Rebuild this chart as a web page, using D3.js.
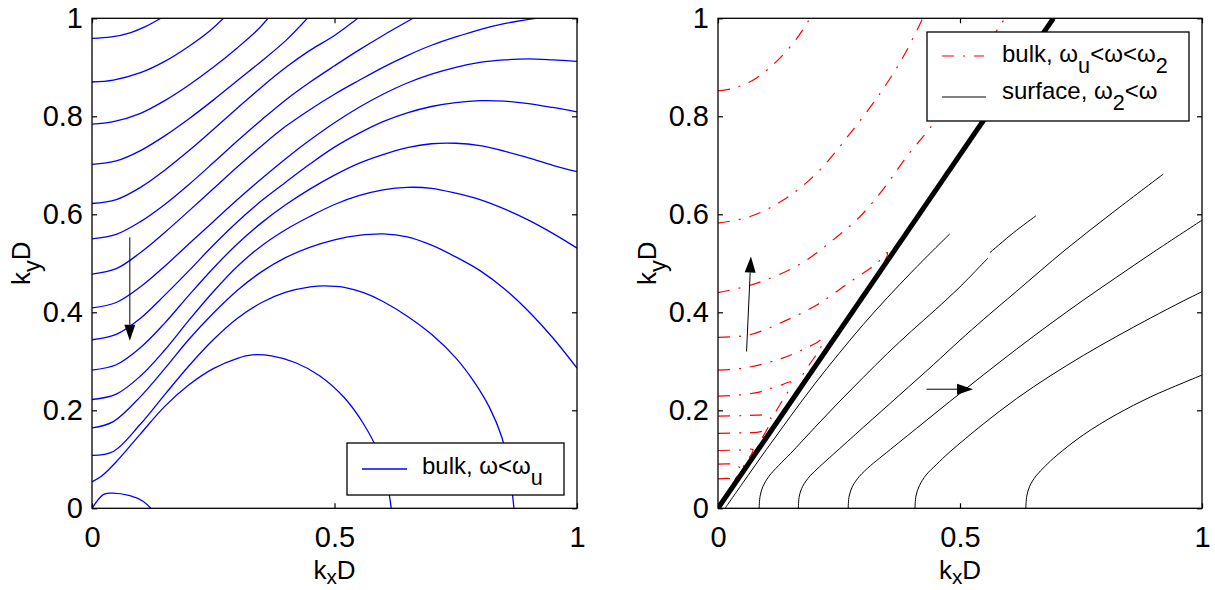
<!DOCTYPE html>
<html>
<head>
<meta charset="utf-8">
<script src="https://cdn.jsdelivr.net/npm/d3@7"></script>
<style>
  body { margin: 0; background: #fff; }
  svg { display: block; }
  text { font-family: "Liberation Sans", Arial, sans-serif; fill: #000; }
</style>
</head>
<body>
<svg id="fig" width="1215" height="590"></svg>
<script>
// tick values, shared by both panels
var xTicks = [0, 0.5, 1];
var yTicks = [0, 0.2, 0.4, 0.6, 0.8, 1];
var xTickLabels = ['0', '0.5', '1'];
var yTickLabels = ['0', '0.2', '0.4', '0.6', '0.8', '1'];

// left panel: bulk contours, omega < omega_u  (kxD, kyD)
var bulkLow = [
  [[0,.959],[.04,.962],[.08,.971],[.11,.983],[.142,1]],
  [[0,.870],[.044,.874],[.1,.889],[.15,.912],[.2,.943],[.24,.972],[.271,1]],
  [[0,.784],[.044,.789],[.1,.806],[.15,.832],[.2,.864],[.25,.900],[.3,.940],[.34,.975],[.363,1]],
  [[0,.702],[.05,.709],[.1,.730],[.15,.760],[.2,.795],[.25,.833],[.3,.873],[.35,.913],[.4,.955],[.444,1]],
  [[0,.622],[.05,.630],[.1,.655],[.15,.690],[.2,.730],[.25,.773],[.3,.817],[.35,.860],[.4,.900],[.45,.935],[.5,.965],[.548,1]],
  [[0,.550],[.05,.559],[.1,.585],[.15,.620],[.2,.661],[.25,.705],[.3,.750],[.35,.793],[.4,.834],[.45,.870],[.5,.903],[.55,.935],[.6,.965],[.662,1]],
  [[0,.478],[.05,.489],[.1,.522],[.15,.563],[.2,.607],[.25,.652],[.3,.697],[.35,.740],[.4,.780],[.45,.814],[.5,.845],[.55,.873],[.6,.900],[.65,.924],[.7,.945],[.75,.962],[.8,.977],[.85,.989],[.915,1]],
  [[0,.409],[.05,.420],[.1,.452],[.15,.494],[.2,.540],[.25,.585],[.3,.630],[.35,.673],[.4,.714],[.45,.752],[.5,.787],[.55,.818],[.6,.845],[.65,.868],[.7,.886],[.75,.900],[.8,.910],[.85,.915],[.9,.917],[.95,.915],[1,.912]],
  [[0,.344],[.05,.355],[.1,.388],[.15,.435],[.2,.485],[.25,.537],[.3,.585],[.35,.628],[.4,.666],[.45,.703],[.5,.737],[.55,.765],[.6,.789],[.65,.807],[.7,.820],[.75,.828],[.8,.832],[.85,.831],[.9,.826],[.95,.818],[1,.809]],
  [[0,.282],[.05,.293],[.1,.328],[.15,.378],[.2,.435],[.25,.490],[.3,.540],[.35,.583],[.4,.620],[.45,.652],[.5,.680],[.55,.704],[.6,.722],[.65,.736],[.7,.744],[.75,.745],[.8,.740],[.85,.729],[.9,.715],[.95,.700],[1,.687]],
  [[0,.222],[.05,.233],[.1,.270],[.15,.323],[.2,.384],[.25,.442],[.3,.494],[.35,.536],[.4,.569],[.45,.596],[.5,.620],[.55,.638],[.6,.650],[.65,.655],[.7,.653],[.75,.643],[.8,.630],[.85,.611],[.9,.588],[.95,.561],[1,.531]],
  [[0,.164],[.044,.177],[.1,.228],[.15,.285],[.2,.345],[.25,.398],[.3,.445],[.35,.483],[.4,.512],[.45,.533],[.5,.548],[.55,.557],[.6,.560],[.65,.554],[.7,.537],[.75,.513],[.8,.485],[.85,.448],[.9,.402],[.95,.348],[1,.286]],
  [[0,.108],[.044,.116],[.1,.172],[.15,.232],[.2,.291],[.25,.344],[.3,.388],[.35,.420],[.4,.441],[.45,.452],[.48,.454],[.52,.451],[.56,.440],[.6,.422],[.65,.392],[.7,.355],[.75,.307],[.79,.255],[.82,.205],[.845,.145],[.86,.08],[.870,0]],
  [[0,.054],[.02,.066],[.05,.095],[.1,.152],[.15,.208],[.2,.252],[.25,.285],[.3,.306],[.33,.313],[.37,.311],[.42,.297],[.47,.270],[.52,.226],[.56,.172],[.59,.115],[.607,.06],[.617,0]],
  [[0,0],[.023,.028],[.037,.031],[.078,.026],[.106,.014],[.121,0]]
];

// right panel: bulk contours, omega_u < omega < omega_2
var bulkMid = [
  [[0,.852],[.031,.857],[.073,.874],[.121,.912],[.163,.959],[.190,1]],
  [[0,.582],[.065,.595],[.135,.629],[.204,.684],[.273,.765],[.335,.847],[.383,.922],[.423,1]],
  [[0,.440],[.079,.459],[.169,.498],[.238,.548],[.293,.595],[.345,.656],[.390,.718],[.438,.776],[.5,.862],[.55,.935],[.586,.99],[.593,1]],
  [[0,.349],[.065,.354],[.135,.381],[.204,.415],[.273,.462],[.328,.500],[.350,.522],[.345,.505],[.31,.452],[.27,.395],[.235,.345]],
  [[0,.282],[.052,.286],[.132,.306],[.204,.338],[.215,.345],[.213,.33],[.19,.295],[.165,.258]],
  [[0,.229],[.04,.231],[.08,.236],[.104,.243],[.132,.252],[.15,.258],[.148,.245],[.13,.215],[.115,.19]],
  [[0,.188],[.05,.189],[.08,.19],[.1,.19],[.108,.186],[.110,.177],[.106,.170],[.095,.15],[.085,.135]],
  [[0,.153],[.05,.154],[.08,.155],[.098,.157],[.096,.148],[.085,.13],[.072,.11]],
  [[0,.118],[.05,.119],[.072,.12],[.07,.112],[.06,.097],[.05,.082]],
  [[0,.09],[.03,.09],[.043,.085],[.045,.075],[.042,.07],[.035,.058]],
  [[0,.06],[.02,.061],[.03,.058],[.031,.05],[.025,.04],[.015,.025],[.005,.008]]
];

// right panel: surface contours, omega_2 < omega
var surface = [
  [[.0145,0],[.05,.05],[.1,.12],[.15,.188],[.2,.254],[.25,.316],[.3,.375],[.35,.43],[.4,.482],[.445,.527],[.479,.560]],
  [[.085,0],[.087,.025],[.093,.045],[.105,.065],[.125,.087],[.15,.112],[.2,.165],[.25,.217],[.3,.267],[.35,.316],[.4,.362],[.45,.406],[.5,.452],[.558,.511]],
  [[.562,.522],[.61,.562],[.657,.597]],
  [[.166,0],[.168,.025],[.175,.045],[.19,.066],[.21,.085],[.238,.11],[.3,.165],[.376,.232],[.445,.293],[.5,.343],[.548,.385],[.617,.443],[.717,.527],[.82,.607],[.920,.682]],
  [[.269,0],[.271,.025],[.278,.045],[.292,.065],[.315,.087],[.341,.108],[.41,.163],[.479,.218],[.548,.272],[.617,.325],[.686,.376],[.755,.425],[.824,.472],[.9,.523],[1,.588]],
  [[.407,0],[.409,.025],[.416,.046],[.43,.068],[.452,.09],[.479,.115],[.548,.172],[.617,.224],[.686,.270],[.755,.312],[.824,.351],[.893,.388],[.961,.423],[1,.442]],
  [[.636,0],[.638,.025],[.644,.045],[.657,.066],[.676,.086],[.7,.108],[.755,.15],[.824,.192],[.893,.227],[.961,.256],[1,.272]]
];

// light line (thick) from the origin
var lightLine = [[0,0],[.693,1]];

// arrows [tail, tip]
var arrowsLeft = [[[.078,.553],[.078,.342]]];
var arrowsRight = [[[.059,.320],[.068,.514]], [[.431,.243],[.527,.243]]];

var svg = d3.select('#fig');
var tickFont = 29, labelFont = 26, legendFont = 24;
var plotTop = 18.3, plotBottom = 508.3;

var panels = [
  {left: 92, right: 577, clip: 'clipL'},
  {left: 718, right: 1202, clip: 'clipR'}
];

svg.append('rect').attr('width', 1215).attr('height', 590).attr('fill', '#fff');

// rich text helper: parts = [[text, isSub], ...]
function richText(g, xPos, yPos, parts, size, anchor, subShift, subScale) {
  var t = g.append('text')
    .attr('x', xPos).attr('y', yPos)
    .attr('font-size', size)
    .attr('text-anchor', anchor || 'start');
  var shift = 0;
  parts.forEach(function(p) {
    var want = p[1] ? size * (subShift || 0.45) : 0;
    var ts = t.append('tspan').attr('dy', want - shift).text(p[0]);
    if (p[1]) ts.attr('font-size', size * (subScale || 0.9));
    shift = want;
  });
  return t;
}

function setupPanel(p) {
  var x = d3.scaleLinear().domain([0, 1]).range([p.left, p.right]);
  var y = d3.scaleLinear().domain([0, 1]).range([plotBottom, plotTop]);
  var g = svg.append('g');

  g.append('clipPath').attr('id', p.clip)
    .append('rect')
    .attr('x', p.left).attr('y', plotTop)
    .attr('width', p.right - p.left).attr('height', plotBottom - plotTop);

  var plot = g.append('g').attr('clip-path', 'url(#' + p.clip + ')');
  var frame = g.append('g');

  //axes with ticks pointing inside
  frame.append('g')
    .attr('transform', 'translate(0,' + plotBottom + ')')
    .call(d3.axisBottom(x).tickValues(xTicks)
      .tickFormat(function(d, i) { return xTickLabels[i]; })
      .tickSizeInner(-5).tickSizeOuter(0).tickPadding(18));
  frame.append('g')
    .attr('transform', 'translate(0,' + plotTop + ')')
    .call(d3.axisTop(x).tickValues(xTicks).tickFormat('')
      .tickSizeInner(-5).tickSizeOuter(0));
  frame.append('g')
    .attr('transform', 'translate(' + p.left + ',0)')
    .call(d3.axisLeft(y).tickValues(yTicks)
      .tickFormat(function(d, i) { return yTickLabels[i]; })
      .tickSizeInner(-5).tickSizeOuter(0).tickPadding(9));
  frame.append('g')
    .attr('transform', 'translate(' + p.right + ',0)')
    .call(d3.axisRight(y).tickValues(yTicks).tickFormat('')
      .tickSizeInner(-5).tickSizeOuter(0));
  frame.selectAll('.domain').remove();
  frame.selectAll('.tick line').attr('stroke', '#000').attr('stroke-width', 1.2);
  frame.selectAll('.tick text')
    .attr('font-size', tickFont)
    .attr('font-family', '"Liberation Sans", Arial, sans-serif')
    .attr('fill', '#000');

  frame.append('rect')
    .attr('x', p.left).attr('y', plotTop)
    .attr('width', p.right - p.left).attr('height', plotBottom - plotTop)
    .attr('fill', 'none').attr('stroke', '#000').attr('stroke-width', 1.3);

  //axis labels
  var cx = (p.left + p.right) / 2;
  richText(g, cx, 579, [['k', false], ['x', true], ['D', false]], labelFont, 'middle', 0.2, 0.8);
  var yl = g.append('g')
    .attr('transform', 'translate(' + (p.left - 62) + ',' + ((plotTop + plotBottom) / 2) + ') rotate(-90)');
  richText(yl, 0, 0, [['k', false], ['y', true], ['D', false]], labelFont, 'middle', 0.38);

  var line = d3.line()
    .x(function(d) { return x(d[0]); })
    .y(function(d) { return y(d[1]); })
    .curve(d3.curveCatmullRom.alpha(0.5));

  return {x: x, y: y, plot: plot, frame: g, line: line};
}

function drawArrows(panel, list) {
  list.forEach(function(a) {
    var x0 = panel.x(a[0][0]), y0 = panel.y(a[0][1]);
    var x1 = panel.x(a[1][0]), y1 = panel.y(a[1][1]);
    var ang = Math.atan2(y1 - y0, x1 - x0);
    var len = 16, half = 5.5;
    var bx = x1 - len * Math.cos(ang), by = y1 - len * Math.sin(ang);
    panel.plot.append('line')
      .attr('x1', x0).attr('y1', y0).attr('x2', bx).attr('y2', by)
      .attr('stroke', '#000').attr('stroke-width', 1);
    var pts = [
      [x1, y1],
      [bx + half * Math.sin(ang), by - half * Math.cos(ang)],
      [bx - half * Math.sin(ang), by + half * Math.cos(ang)]
    ];
    panel.plot.append('polygon')
      .attr('points', pts.map(function(q) { return q.join(','); }).join(' '))
      .attr('fill', '#000');
  });
}

function drawLegend(g, box, rows) {
  g.append('rect')
    .attr('x', box.x).attr('y', box.y).attr('width', box.w).attr('height', box.h)
    .attr('fill', '#fff').attr('stroke', '#000').attr('stroke-width', 1.3);
  rows.forEach(function(r) {
    g.append('line')
      .attr('x1', r.x1).attr('x2', r.x2).attr('y1', r.ly).attr('y2', r.ly)
      .attr('stroke', r.color).attr('stroke-width', r.width)
      .attr('stroke-dasharray', r.dash || null);
    richText(g, r.tx, r.ty, r.parts, legendFont, 'start');
  });
}

// ----- left panel -----
var L = setupPanel(panels[0]);
L.plot.selectAll('path.bulk')
  .data(bulkLow).enter().append('path')
  .attr('class', 'bulk')
  .attr('d', L.line)
  .attr('fill', 'none').attr('stroke', '#0000ff').attr('stroke-width', 1.3);
drawArrows(L, arrowsLeft);
drawLegend(L.frame, {x: 347, y: 443, w: 217, h: 52}, [
  {x1: 362, x2: 407, ly: 469, color: '#0000ff', width: 1.3, tx: 422, ty: 474,
   parts: [['bulk, \u03c9<\u03c9', false], ['u', true]]}
]);

// ----- right panel -----
var R = setupPanel(panels[1]);
R.plot.selectAll('path.surf')
  .data(surface).enter().append('path')
  .attr('class', 'surf')
  .attr('d', R.line)
  .attr('fill', 'none').attr('stroke', '#000').attr('stroke-width', 1);
R.plot.selectAll('path.mid')
  .data(bulkMid).enter().append('path')
  .attr('class', 'mid')
  .attr('d', R.line)
  .attr('fill', 'none').attr('stroke', '#ff0000').attr('stroke-width', 1.2)
  .attr('stroke-dasharray', '12,9,2,9');
R.plot.append('path')
  .attr('d', d3.line().x(function(d) { return R.x(d[0]); }).y(function(d) { return R.y(d[1]); })(lightLine))
  .attr('fill', 'none').attr('stroke', '#000').attr('stroke-width', 5);
drawArrows(R, arrowsRight);
drawLegend(R.frame, {x: 927, y: 32, w: 262, h: 89}, [
  {x1: 942, x2: 984, ly: 56, color: '#ff0000', width: 1.2, dash: '12,9,2,9', tx: 1002, ty: 62,
   parts: [['bulk, \u03c9', false], ['u', true], ['<\u03c9<\u03c9', false], ['2', true]]},
  {x1: 942, x2: 986, ly: 97, color: '#000', width: 1, tx: 1002, ty: 99,
   parts: [['surface, \u03c9', false], ['2', true], ['<\u03c9', false]]}
]);
</script>
</body>
</html>
